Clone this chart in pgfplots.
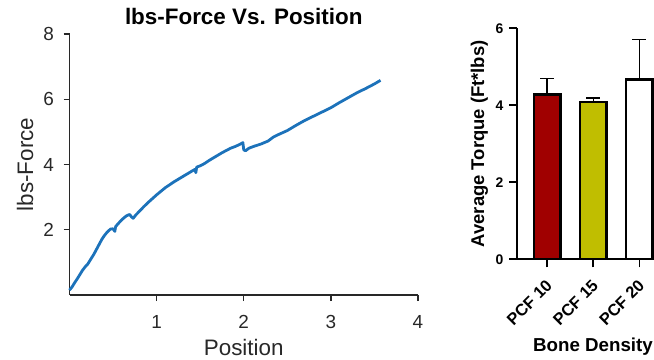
\documentclass[border=0pt]{standalone}
\usepackage{fontspec}
\setmainfont{Liberation Sans}
\usepackage{pgfplots}
\pgfplotsset{compat=1.18}
\definecolor{curveblue}{RGB}{28,114,186}
\definecolor{barred}{RGB}{160,0,0}
\definecolor{barolive}{RGB}{192,190,0}
\definecolor{axgray}{RGB}{40,40,40}
\begin{document}
\begin{tikzpicture}
\useasboundingbox (0,0) rectangle (654bp,360bp);
\begin{axis}[
  at={(69.5bp,65bp)}, anchor=south west,
  scale only axis, width=348.5bp, height=261bp,
  xmin=0, xmax=4, ymin=0, ymax=8,
  axis x line*=bottom, axis y line*=left,
  xtick={1,2,3,4}, ytick={2,4,6,8},
  tick align=outside, major tick length=6bp,
  axis line style={line width=1.4bp, axgray},
  major tick style={line width=1.4bp, axgray},
  /pgf/number format/assume math mode=true,
  ticklabel style={font=\fontsize{19}{21}\selectfont, text=axgray},
  xticklabel style={yshift=-11bp},
  yticklabel style={xshift=-6bp},
  title={\textbf{lbs-Force Vs. Position}},
  title style={font=\fontsize{22.5}{26}\selectfont, at={(axis description cs:0.5,1)}, anchor=base, yshift=4bp},
  xlabel={Position},
  xlabel style={font=\fontsize{22.5}{26}\selectfont, text=axgray, at={(axis description cs:0.5,-0.233)}, anchor=base},
  ylabel={lbs-Force},
  ylabel style={font=\fontsize{22.5}{26}\selectfont, text=axgray, at={(axis description cs:-0.1047,0.5)}, anchor=base},
  clip=false,
]
\addplot[curveblue, line width=2.8bp, line join=round] table {
x y
0.00 0.15
0.03 0.25
0.06 0.38
0.09 0.50
0.12 0.63
0.15 0.76
0.185 0.88
0.21 0.95
0.24 1.08
0.28 1.25
0.31 1.40
0.34 1.55
0.37 1.70
0.40 1.82
0.43 1.92
0.47 2.02
0.50 2.03
0.52 1.95
0.53 2.10
0.57 2.22
0.61 2.33
0.65 2.42
0.69 2.47
0.71 2.40
0.73 2.35
0.76 2.45
0.80 2.56
0.85 2.70
0.90 2.83
0.95 2.95
1.00 3.07
1.05 3.18
1.10 3.29
1.15 3.38
1.20 3.47
1.25 3.55
1.30 3.63
1.35 3.71
1.40 3.79
1.44 3.85
1.45 3.75
1.46 3.92
1.50 3.96
1.55 4.03
1.60 4.12
1.65 4.20
1.70 4.28
1.75 4.36
1.80 4.43
1.85 4.50
1.90 4.55
1.95 4.61
1.99 4.67
2.00 4.45
2.02 4.42
2.06 4.50
2.12 4.56
2.20 4.63
2.28 4.72
2.34 4.84
2.40 4.92
2.50 5.04
2.60 5.20
2.70 5.35
2.80 5.48
2.90 5.61
3.00 5.74
3.10 5.90
3.20 6.05
3.30 6.20
3.40 6.33
3.50 6.47
3.57 6.58
};
\end{axis}
\begin{axis}[
  at={(517bp,100.7bp)}, anchor=south west,
  scale only axis, width=137.2bp, height=231bp,
  xmin=-0.65, xmax=2.32, ymin=0, ymax=6,
  axis x line*=bottom, axis y line*=left,
  xtick={0,1,2}, xticklabels={PCF 10,PCF 15,PCF 20}, ytick={0,2,4,6},
  tick align=outside, major tick length=8bp,
  axis line style={line width=1.8bp, black},
  major tick style={line width=1.8bp, black},
  /pgf/number format/assume math mode=true,
  ticklabel style={font=\bfseries\fontsize{14}{16}\selectfont},
  xticklabel style={rotate=45, anchor=north east, xshift=-6bp, yshift=-3bp, font=\bfseries\fontsize{16.5}{18}\selectfont},
  yticklabel style={xshift=-2bp},
  ybar, bar width=26.5bp, bar shift=0pt,
  xlabel={\textbf{Bone Density}},
  xlabel style={font=\fontsize{18.8}{21}\selectfont, at={(axis description cs:0.554,-0.4)}, anchor=base},
  ylabel={\textbf{Average Torque (Ft*lbs)}},
  ylabel style={font=\fontsize{18.5}{21}\selectfont, at={(axis description cs:-0.2405,0.5)}, anchor=base},
]
\addplot[fill=barred, draw=black, line width=2.5bp,
  error bars/.cd, y dir=plus, y explicit,
  error bar style={line width=1.3bp, black},
  error mark options={rotate=90, mark size=7bp, line width=1.3bp, black}]
  coordinates {(0,4.28) +- (0,0.42)};
\addplot[fill=barolive, draw=black, line width=2.5bp,
  error bars/.cd, y dir=plus, y explicit,
  error bar style={line width=1.3bp, black},
  error mark options={rotate=90, mark size=7bp, line width=1.3bp, black}]
  coordinates {(1,4.08) +- (0,0.11)};
\addplot[fill=white, draw=black, line width=2.5bp,
  error bars/.cd, y dir=plus, y explicit,
  error bar style={line width=1.3bp, black},
  error mark options={rotate=90, mark size=7bp, line width=1.3bp, black}]
  coordinates {(2,4.67) +- (0,1.04)};
\end{axis}
\end{tikzpicture}
\end{document}
